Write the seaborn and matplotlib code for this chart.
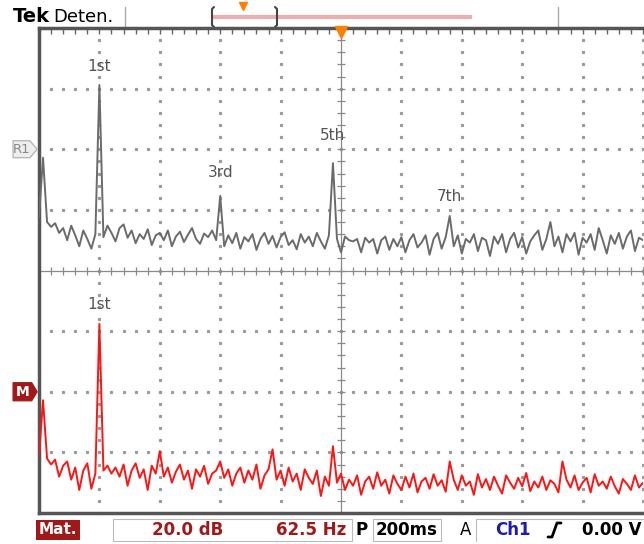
import matplotlib
matplotlib.use("Agg")
import matplotlib.pyplot as plt
from matplotlib.patches import Polygon, Rectangle
import numpy as np
import pandas as pd
import seaborn as sns

# FFT traces, in divisions (0 = screen centre, 20 dB/div, 62.5 Hz/div)
REF_TRACE = [
    0.88, 1.86, 0.80, 0.72, 0.78, 0.62, 0.70, 0.50, 0.74, 0.58, 0.40, 0.66, 0.52, 0.36, 0.60,
    3.06,
    0.55, 0.74, 0.62, 0.48, 0.70, 0.76, 0.54, 0.66, 0.45, 0.60, 0.52, 0.68, 0.42, 0.58,
    0.62, 0.50, 0.66, 0.40, 0.56, 0.64, 0.47, 0.59, 0.70, 0.52, 0.44, 0.61, 0.55, 0.66, 0.50,
    1.23,
    0.40, 0.58, 0.45, 0.62, 0.36, 0.55, 0.48, 0.60, 0.34, 0.52, 0.62, 0.44, 0.57, 0.38,
    0.55, 0.63, 0.42, 0.50, 0.35, 0.60, 0.46, 0.56, 0.40, 0.62, 0.48, 0.36, 0.58,
    1.77,
    0.52, 0.30, 0.56, 0.50, 0.48, 0.52, 0.30, 0.54, 0.46, 0.52, 0.28, 0.50, 0.56, 0.34, 0.52, 0.40,
    0.55, 0.30, 0.50, 0.60, 0.38, 0.46, 0.58, 0.26, 0.52, 0.62, 0.36, 0.55,
    0.90,
    0.40, 0.58, 0.28, 0.52, 0.46, 0.60, 0.32, 0.54, 0.50, 0.24, 0.56, 0.44, 0.60, 0.30, 0.52, 0.62, 0.38,
    0.55, 0.28, 0.48, 0.58, 0.66, 0.34, 0.52, 0.80, 0.40, 0.56, 0.30, 0.60, 0.48, 0.62, 0.26, 0.54,
    0.46, 0.60, 0.34, 0.70, 0.50, 0.28, 0.58, 0.44, 0.62, 0.36, 0.56, 0.66, 0.32, 0.54, 0.50,
]
MATH_TRACE = [
    -3.05, -2.14, -3.10,
    -3.20, -3.12, -3.40, -3.22, -3.15, -3.45, -3.25, -3.62, -3.30, -3.18, -3.60, -3.35,
    -0.88,
    -3.30, -3.22, -3.35, -3.25, -3.40, -3.20, -3.55, -3.30, -3.18, -3.42, -3.28, -3.62, -3.22, -3.35,
    -2.98,
    -3.40, -3.25, -3.50, -3.32, -3.20, -3.45, -3.30, -3.60, -3.28, -3.40, -3.22, -3.52, -3.35, -3.30,
    -3.15,
    -3.42, -3.28, -3.55, -3.35, -3.25, -3.50, -3.30, -3.45, -3.20, -3.60, -3.38, -3.28,
    -2.95,
    -3.45, -3.30, -3.55, -3.25, -3.48, -3.35, -3.62, -3.28, -3.42, -3.52, -3.30, -3.72, -3.40, -3.55,
    -2.90,
    -3.50, -3.35, -3.62, -3.45, -3.55, -3.38, -3.70, -3.48, -3.40, -3.60, -3.33, -3.55, -3.45, -3.68,
    -3.38, -3.52, -3.62, -3.40, -3.58, -3.35, -3.66, -3.48, -3.42, -3.60, -3.36, -3.55, -3.46, -3.65,
    -3.15,
    -3.45, -3.62, -3.38, -3.55, -3.48, -3.70, -3.36, -3.58, -3.44, -3.62, -3.40, -3.55, -3.68, -3.38,
    -3.50, -3.60, -3.42, -3.56, -3.34, -3.64, -3.48, -3.58, -3.40, -3.62, -3.46, -3.52, -3.66,
    -3.15,
    -3.45, -3.58, -3.38, -3.62, -3.50, -3.42, -3.66, -3.36, -3.55, -3.48,
    -3.60, -3.40, -3.56, -3.68, -3.44, -3.52, -3.62, -3.38, -3.58, -3.50,
]
REF_LABELS = ["1st", "3rd", "5th", "7th"]
REF_PEAK_BINS = [15, 45, 73, 102]
MATH_LABELS = ["1st"]
MATH_PEAK_BINS = [15]
REF_LEVEL = 2.0
MATH_LEVEL = -2.0

GRID = "#9a9a9a"
BORDER = "#555555"
DARK_RED = "#a01818"
UI_FONT = ["Liberation Sans Narrow", "DejaVu Sans"]

sns.set_style("white")
plt.rcParams["font.family"] = ["DejaVu Sans"]

n = len(REF_TRACE)
div = np.linspace(0, 10, n)
df = pd.DataFrame({
    "div": np.concatenate([div, div]),
    "level": REF_TRACE + MATH_TRACE,
    "trace": ["R1"] * n + ["M"] * len(MATH_TRACE),
})

fig = plt.figure(figsize=(6.44, 5.44), dpi=100)
over = fig.add_axes([0, 0, 1, 1])
over.set_xlim(0, 644)
over.set_ylim(544, 0)
over.axis("off")

ax = fig.add_axes([39 / 644, 31 / 544, 604 / 644, 485 / 544])
ax.set_xlim(0, 10)
ax.set_ylim(-4, 4)

# graticule: dotted major lines, centre cross with ticks
minor = np.round(np.arange(0, 10.001, 0.2), 2)
minor_y = np.round(np.arange(-4, 4.001, 0.2), 2)
for gx in range(1, 11):
    if gx != 5:
        ax.plot([gx] * len(minor_y), minor_y, ls="none", marker="s", ms=1.3, color=GRID,
                zorder=1, clip_on=False)
for gy in range(-3, 4):
    if gy != 0:
        ax.plot(minor, [gy] * len(minor), ls="none", marker="s", ms=1.3, color=GRID, zorder=1)
ax.axhline(0, color="#8a8a8a", lw=0.9, zorder=1)
ax.axvline(5, color="#8a8a8a", lw=0.9, zorder=1)
ax.plot(minor, np.zeros_like(minor), ls="none", marker="|", ms=6, mew=0.9, color="#8a8a8a", zorder=1)
ax.plot(np.full_like(minor_y, 5), minor_y, ls="none", marker="_", ms=6, mew=0.9, color="#8a8a8a", zorder=1)

ax.set_xticks(minor)
ax.set_yticks(minor_y)
ax.tick_params(direction="in", length=4, width=1, color="#666666", top=True, right=False,
               labelbottom=False, labelleft=False)
for sp in ax.spines.values():
    sp.set_color(BORDER)
    sp.set_linewidth(2.5)
ax.spines["right"].set_visible(False)

sns.lineplot(data=df, x="div", y="level", hue="trace", palette={"R1": "#6b6b6b", "M": "#ff1414"},
             estimator=None, sort=False, linewidth=1.4, legend=False, ax=ax, zorder=3)
ax.set_xlabel("")
ax.set_ylabel("")

# harmonic labels
for lab, b, dy in zip(REF_LABELS, REF_PEAK_BINS, [13, 17, 20, 14]):
    ax.annotate(lab, (div[b], REF_TRACE[b]), xytext=(0, dy), textcoords="offset points",
                ha="center", va="center", fontsize=11, color="#555555")
for lab, b in zip(MATH_LABELS, MATH_PEAK_BINS):
    ax.annotate(lab, (div[b], MATH_TRACE[b]), xytext=(0, 14), textcoords="offset points",
                ha="center", va="center", fontsize=11, color="#555555")

# channel markers on the left edge
ax.add_patch(Polygon([(-0.43, REF_LEVEL + 0.14), (-0.15, REF_LEVEL + 0.14), (-0.03, REF_LEVEL),
                      (-0.15, REF_LEVEL - 0.14), (-0.43, REF_LEVEL - 0.14)], closed=True,
                     facecolor="#eeeeee", edgecolor="#aaaaaa", lw=0.8, clip_on=False, zorder=5))
ax.text(-0.29, REF_LEVEL, "R1", ha="center", va="center", fontsize=9.5, color="#888888",
        family=UI_FONT, clip_on=False, zorder=6)
ax.add_patch(Polygon([(-0.43, MATH_LEVEL + 0.15), (-0.12, MATH_LEVEL + 0.15), (-0.03, MATH_LEVEL),
                      (-0.12, MATH_LEVEL - 0.15), (-0.43, MATH_LEVEL - 0.15)], closed=True,
                     facecolor=DARK_RED, edgecolor=DARK_RED, lw=0.8, clip_on=False, zorder=5))
ax.text(-0.27, MATH_LEVEL, "M", ha="center", va="center", fontsize=10, color="white",
        fontweight="bold", family=UI_FONT, clip_on=False, zorder=6)

# trigger position marker
ax.plot([5], [3.93], marker="v", ms=9, color="#ff7f00", clip_on=False, zorder=6)

# header
over.text(13, 17, "Tek", ha="left", va="center", fontsize=14, fontweight="heavy", color="black",
          family=UI_FONT)
over.text(53, 17, "Deten.", ha="left", va="center", fontsize=13, color="black", family=UI_FONT)
over.plot([125, 125], [7, 28], color="#aaaaaa", lw=1)
over.plot([213, 472], [17, 17], color="#e8b0b0", lw=3, solid_capstyle="butt")
over.plot([214, 212, 212, 214], [7, 9, 25, 27], color="#444444", lw=1.5)
over.plot([275, 277, 277, 275], [7, 9, 25, 27], color="#444444", lw=1.5)
over.plot([243], [6], marker="v", ms=6, color="#ff7f00")
over.plot([558, 558], [7, 27], color="#aaaaaa", lw=1)

# status bar
over.add_patch(Rectangle((36, 520), 44, 20, facecolor=DARK_RED, edgecolor="none"))
over.text(58, 530, "Mat.", ha="center", va="center", fontsize=11, fontweight="bold", color="white",
          family=UI_FONT)
over.add_patch(Rectangle((113, 519), 239, 22, facecolor="none", edgecolor="#bbbbbb", lw=0.8))
over.text(188, 530, "20.0 dB", ha="center", va="center", fontsize=12, fontweight="bold", color=DARK_RED,
          family=UI_FONT)
over.text(346, 530, "62.5 Hz", ha="right", va="center", fontsize=12, fontweight="bold", color=DARK_RED,
          family=UI_FONT)
over.text(362, 530, "P", ha="center", va="center", fontsize=12, fontweight="bold", color="black",
          family=UI_FONT)
over.add_patch(Rectangle((373, 519), 68, 22, facecolor="none", edgecolor="#bbbbbb", lw=0.8))
over.text(407, 530, "200ms", ha="center", va="center", fontsize=12, fontweight="bold", color="black",
          family=UI_FONT)
over.text(466, 530, "A", ha="center", va="center", fontsize=12, color="black", family=UI_FONT)
over.plot([644, 476, 476], [519, 519, 541], color="#bbbbbb", lw=0.8)
over.text(513, 530, "Ch1", ha="center", va="center", fontsize=12, fontweight="bold", color="#1c1cb0",
          family=UI_FONT)
over.plot([548, 552, 557, 561], [537, 537, 523, 523], color="black", lw=2)
over.text(642, 530, "0.00 V", ha="right", va="center", fontsize=12, fontweight="bold", color="black",
          family=UI_FONT)

fig.savefig("out.png", dpi=100)
